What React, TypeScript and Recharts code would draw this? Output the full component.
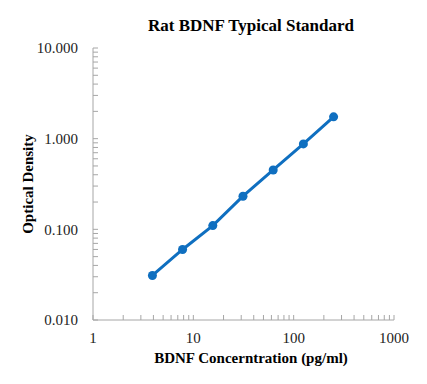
import { Scatter, ScatterChart, XAxis, YAxis, ZAxis } from 'recharts'

const concentrations = [3.91, 7.81, 15.63, 31.25, 62.5, 125, 250]
const opticalDensity = [0.031, 0.06, 0.11, 0.232, 0.452, 0.875, 1.74]

const xTicks = [
  1, 2, 3, 4, 5, 6, 7, 8, 9,
  10, 20, 30, 40, 50, 60, 70, 80, 90,
  100, 200, 300, 400, 500, 600, 700, 800, 900,
  1000,
]
const xLabels = [1, 10, 100, 1000]

const yTicks = [
  0.01, 0.02, 0.03, 0.04, 0.05, 0.06, 0.07, 0.08, 0.09,
  0.1, 0.2, 0.3, 0.4, 0.5, 0.6, 0.7, 0.8, 0.9,
  1, 2, 3, 4, 5, 6, 7, 8, 9,
  10,
]
const yLabels = [0.01, 0.1, 1, 10]

const points = concentrations.map((c, i) => ({ conc: c, od: opticalDensity[i] }))

const BLUE = '#0f6fc0'
const AXIS = '#a6a6a6'
const FONT = '"Liberation Serif", "Times New Roman", serif'

const isMajor = (v: number, list: number[]) => list.some((m) => Math.abs(m - v) < 1e-9)

export default function App() {
  return (
    <div style={{ position: 'relative', width: 427, height: 384, background: '#fff', fontFamily: FONT }}>
      <style>{`body{margin:0} .recharts-cartesian-axis-tick text{font-family:${FONT};}`}</style>
      <div
        style={{
          position: 'absolute', left: 0, width: 502, top: 15, textAlign: 'center',
          fontSize: 17, fontWeight: 'bold', color: '#000', lineHeight: '22px',
        }}
      >
        Rat BDNF Typical Standard
      </div>
      <div style={{ position: 'absolute', left: 28, top: 184, width: 0, height: 0 }}>
        <div
          style={{
            position: 'absolute', left: -80, top: -9, width: 160, textAlign: 'center',
            transform: 'rotate(-90deg)', fontSize: 15, fontWeight: 'bold', lineHeight: '18px', whiteSpace: 'nowrap',
          }}
        >
          Optical Density
        </div>
      </div>
      <div
        style={{
          position: 'absolute', left: 0, width: 502, top: 349, textAlign: 'center',
          fontSize: 15, fontWeight: 'bold', lineHeight: '18px',
        }}
      >
        BDNF Concerntration (pg/ml)
      </div>
      <div style={{ position: 'absolute', left: 0, top: 0 }}>
        <ScatterChart width={427} height={384} margin={{ top: 48, right: 33, bottom: 0, left: 0 }}>
          <XAxis
            type="number"
            dataKey="conc"
            scale="log"
            domain={[1, 1000]}
            ticks={xTicks}
            interval={0}
            allowDataOverflow
            height={64}
            stroke={AXIS}
            tickSize={-5}
            tickMargin={17}
            tick={{ fill: '#222', fontSize: 15, fontFamily: FONT }}
            tickFormatter={(v: number) => (isMajor(v, xLabels) ? String(v) : '')}
          />
          <YAxis
            type="number"
            dataKey="od"
            scale="log"
            domain={[0.01, 10]}
            ticks={yTicks}
            interval={0}
            allowDataOverflow
            width={93}
            stroke={AXIS}
            tickSize={-5}
            tickMargin={20}
            tick={{ fill: '#222', fontSize: 15, fontFamily: FONT }}
            tickFormatter={(v: number) => (isMajor(v, yLabels) ? v.toFixed(3) : '')}
          />
          <ZAxis range={[110, 110]} />
          <Scatter
            data={points}
            fill={BLUE}
            line={{ stroke: BLUE, strokeWidth: 3 }}
            isAnimationActive={false}
          />
        </ScatterChart>
      </div>
    </div>
  )
}
